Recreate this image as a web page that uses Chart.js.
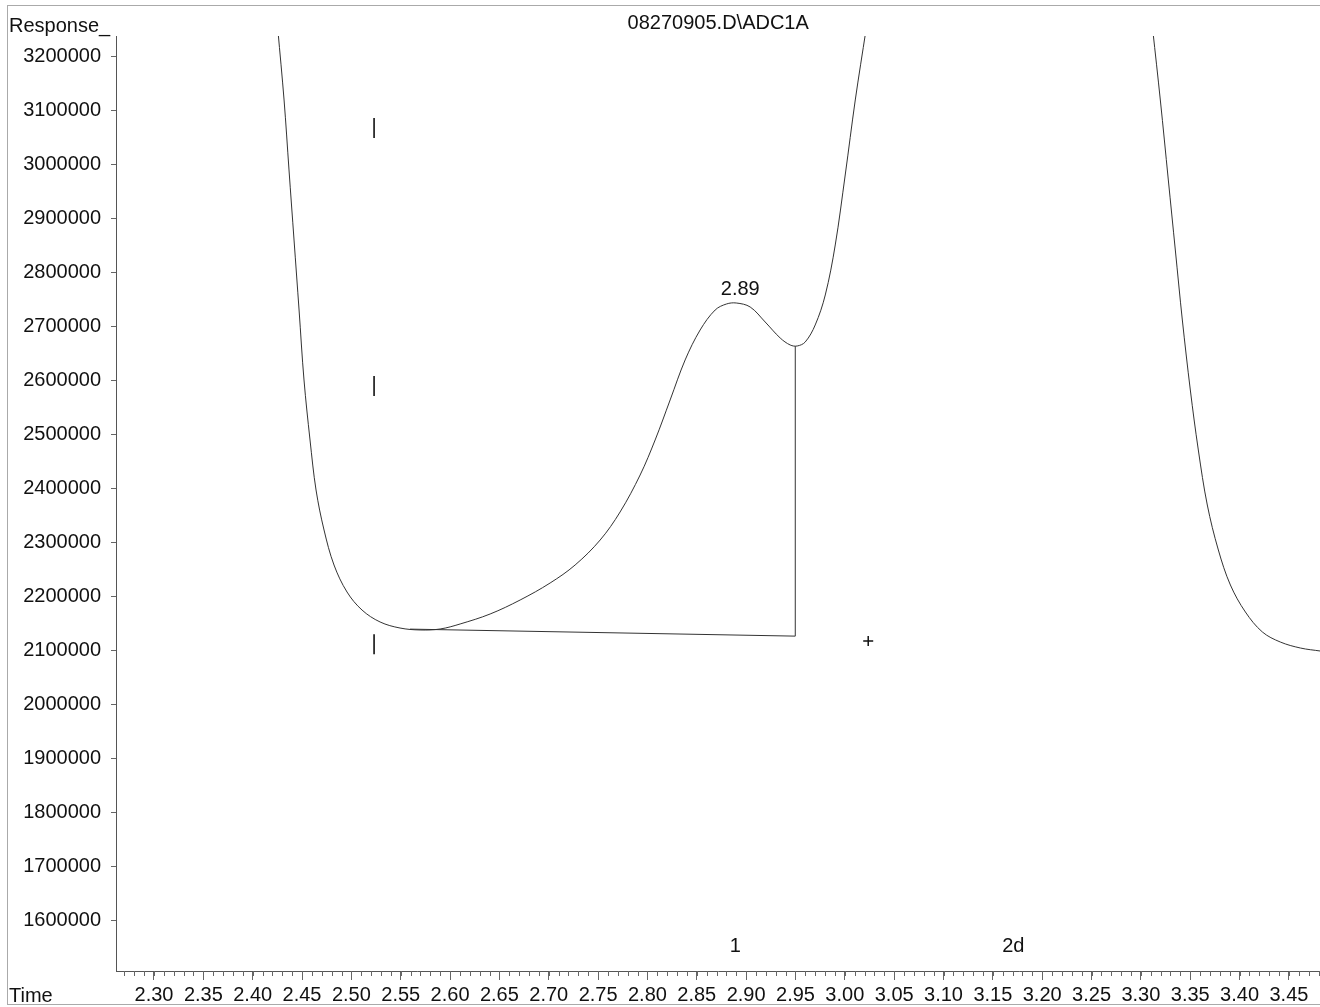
<!DOCTYPE html>
<html>
<head>
<meta charset="utf-8">
<script src="https://cdn.jsdelivr.net/npm/chart.js@4"></script>
<style>
  html, body { margin: 0; padding: 0; background: #fff; overflow: hidden; }
  canvas { display: block; }
  #probe { position: absolute; left: -5000px; top: 0; }
</style>
</head>
<body>
<canvas id="myChart" width="1320" height="1007"></canvas>
<div id="probe"><canvas id="probeCanvas" width="1320" height="1007"></canvas></div>
<script>
// Signal trace (time in min, response)
const signalTime = [2.4255, 2.4318, 2.4368, 2.4419, 2.4470, 2.4520, 2.4581, 2.4642, 2.4723, 2.4824, 2.4956,
    2.5108, 2.5291, 2.5493, 2.5696, 2.5899, 2.6102, 2.6406, 2.6710, 2.7014, 2.7267, 2.7521,
    2.7723, 2.7926, 2.8078, 2.8230, 2.8382, 2.8534, 2.8686, 2.8800, 2.8900, 2.9041, 2.9193, 2.9345,
    2.9447, 2.9518, 2.9599, 2.9700, 2.9802, 2.9903, 3.0004, 3.0106, 3.0215];
const signalResponse = [3250000, 3119800, 2990200, 2860500, 2730900, 2601300, 2490200, 2397600, 2323500, 2258700, 2208700,
    2175300, 2153200, 2142000, 2138400, 2140200, 2149500, 2168000, 2193900, 2225400, 2258700, 2305000,
    2356900, 2425400, 2490200, 2564300, 2638400, 2693900, 2730900, 2742000, 2743900, 2736500, 2708700, 2679100,
    2666100, 2664300, 2671700, 2703200, 2758700, 2851300, 2980900, 3119800, 3250000];

// Tail of the next peak on the right
const tailTime = [3.3120, 3.3197, 3.3278, 3.3349, 3.3420, 3.3501, 3.3582, 3.3673, 3.3785, 3.3907, 3.4059,
    3.4231, 3.4413, 3.4616, 3.4819];
const tailResponse = [3250000, 3119800, 2971700, 2842000, 2712400, 2582800, 2471700, 2369800, 2286500, 2221700, 2171700,
    2134700, 2116100, 2105000, 2099400];

// Integration baseline + drop line
const baselineTime = [2.5595, 2.9498, 2.9498];
const baselineResponse = [2140000, 2127000, 2664000];

// Event marks and the cross
const eventTime = [2.523, 2.523, 2.523];
const eventResponse = [3068000, 2590000, 2112000];
const crossTime = [3.0237];
const crossResponse = [2118000];

// Peak labels
const peakTopLabel = "2.89";
const peakTopTime = 2.89;
const peakTopResponse = 2743900;
const peakNumLabels = ["1", "2d"];
const peakNumTimes = [2.889, 3.1707];

// Axis ticks
const xTickLabels = ["2.30", "2.35", "2.40", "2.45", "2.50", "2.55", "2.60", "2.65", "2.70", "2.75", "2.80", "2.85",
    "2.90", "2.95", "3.00", "3.05", "3.10", "3.15", "3.20", "3.25", "3.30", "3.35", "3.40", "3.45"];
const yTickValues = [1600000, 1700000, 1800000, 1900000, 2000000, 2100000, 2200000, 2300000, 2400000,
    2500000, 2600000, 2700000, 2800000, 2900000, 3000000, 3100000, 3200000];

const PAGE_W = 1320;
const PAGE_H = 1007;

const toPoints = (xs, ys) => xs.map((x, i) => ({ x: x, y: ys[i] }));

Chart.defaults.font.family = "'Liberation Sans', Arial, sans-serif";
Chart.defaults.color = "#111";

// Draws frame, corner captions, minor ticks and peak labels
const decorations = {
    id: "decorations",
    beforeDraw(chart) {
        const ctx = chart.ctx;
        ctx.save();
        ctx.fillStyle = "#fff";
        ctx.fillRect(0, 0, chart.width, chart.height);
        ctx.strokeStyle = "#aaa";
        ctx.lineWidth = 1;
        ctx.strokeRect(7.5, 5.5, PAGE_W + 40, 999);
        ctx.restore();
    },
    afterDraw(chart) {
        const ctx = chart.ctx;
        const xs = chart.scales.x;
        const ys = chart.scales.y;
        const area = chart.chartArea;
        ctx.save();

        // minor ticks every 0.01
        ctx.strokeStyle = "#666";
        ctx.lineWidth = 1;
        ctx.beginPath();
        for (let i = Math.ceil(xs.min * 100); i <= Math.floor(xs.max * 100); i++) {
            const px = Math.round(xs.getPixelForValue(i / 100)) + 0.5;
            ctx.moveTo(px, area.bottom);
            ctx.lineTo(px, area.bottom + 5);
        }
        ctx.stroke();

        ctx.fillStyle = "#111";
        ctx.font = "20px 'Liberation Sans', Arial, sans-serif";
        ctx.textBaseline = "alphabetic";
        ctx.textAlign = "left";
        ctx.fillText("Response_", 9, 32);
        ctx.fillText("Time", 9, 1002);

        ctx.textAlign = "center";
        ctx.fillText(peakTopLabel, xs.getPixelForValue(peakTopTime) + 4, ys.getPixelForValue(peakTopResponse) - 8);
        peakNumLabels.forEach((t, i) => {
            ctx.fillText(t, xs.getPixelForValue(peakNumTimes[i]), area.bottom - 19);
        });
        ctx.restore();
    }
};

const lineStyle = {
    showLine: true,
    borderColor: "#333",
    borderWidth: 1,
    pointRadius: 0,
    fill: false
};

function makeConfig() {
    return {
        type: "scatter",
        data: {
            datasets: [
                Object.assign({ label: "signal", data: toPoints(signalTime, signalResponse), tension: 0.35 }, lineStyle),
                Object.assign({ label: "tail", data: toPoints(tailTime, tailResponse), tension: 0.35 }, lineStyle),
                Object.assign({ label: "baseline", data: toPoints(baselineTime, baselineResponse), tension: 0 }, lineStyle),
                {
                    label: "events",
                    data: toPoints(eventTime, eventResponse),
                    showLine: false,
                    pointStyle: "line",
                    rotation: 90,
                    pointRadius: 10,
                    borderColor: "#111",
                    borderWidth: 1.6
                },
                {
                    label: "cross",
                    data: toPoints(crossTime, crossResponse),
                    showLine: false,
                    pointStyle: "cross",
                    pointRadius: 5,
                    borderColor: "#111",
                    borderWidth: 1.5
                }
            ]
        },
        options: {
            responsive: false,
            animation: false,
            elements: { line: { capBezierPoints: false } },
            plugins: {
                legend: { display: false },
                tooltip: { enabled: false },
                title: {
                    display: true,
                    text: "08270905.D\\ADC1A",
                    fullSize: false,
                    color: "#111",
                    font: { size: 20, weight: "normal" },
                    padding: { top: 11, bottom: 1 }
                }
            },
            scales: {
                x: {
                    type: "linear",
                    min: 2.2615,
                    max: 3.4819,
                    afterBuildTicks: (axis) => {
                        axis.ticks = xTickLabels.map(v => ({ value: parseFloat(v) }));
                    },
                    afterFit: (axis) => {
                        axis.height = 36;
                    },
                    ticks: {
                        autoSkip: false,
                        maxRotation: 0,
                        padding: 3,
                        font: { size: 20 },
                        callback: (value) => value.toFixed(2)
                    },
                    grid: {
                        drawOnChartArea: false,
                        tickLength: 9,
                        tickColor: "#666"
                    },
                    border: { color: "#555" }
                },
                y: {
                    min: 1506900,
                    max: 3238300,
                    afterBuildTicks: (axis) => {
                        axis.ticks = yTickValues.map(v => ({ value: v }));
                    },
                    afterFit: (axis) => {
                        axis.width = 116;
                    },
                    ticks: {
                        padding: 10,
                        font: { size: 20 },
                        callback: (value) => String(value)
                    },
                    grid: {
                        drawOnChartArea: false,
                        tickLength: 5,
                        tickColor: "#666"
                    },
                    border: { color: "#555" }
                }
            }
        },
        plugins: [decorations]
    };
}

// Chart.js keeps a few pixels free on the right; the printout's plot runs to
// the page edge, so measure that gap first and widen the real canvas by it
const probeChart = new Chart(document.getElementById("probeCanvas").getContext("2d"), makeConfig());
const gap = Math.max(0, Math.round(probeChart.width - probeChart.chartArea.right));
probeChart.destroy();
document.getElementById("probe").remove();

const canvas = document.getElementById("myChart");
canvas.width = PAGE_W + gap;
canvas.height = PAGE_H;
const myChart = new Chart(canvas.getContext("2d"), makeConfig());
</script>
</body>
</html>
